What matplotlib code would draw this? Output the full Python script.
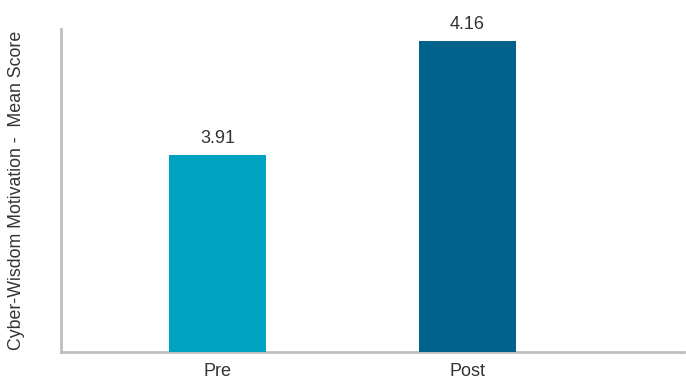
import matplotlib
matplotlib.use("Agg")
import matplotlib.pyplot as plt

categories = ["Pre", "Post"]
values = [3.91, 4.16]
colors = ["#00A2C1", "#00628B"]

plt.rcParams['font.family'] = ['Liberation Sans', 'DejaVu Sans']

fig = plt.figure(figsize=(6.86, 3.81), dpi=100)
ax = fig.add_axes([61/686, 1-352/381, (684-61)/686, (352-29)/381])

x = range(len(categories))
bars = ax.bar(x, values, width=0.388, color=colors, zorder=1)
ax.set_xlim(-0.626, 1.866)
ax.set_ylim(3.478, 4.186)

for xi, v in zip(x, values):
    ax.annotate(f"{v:.2f}", (xi, v), xytext=(0, 6), textcoords="offset points",
                ha="center", va="bottom", fontsize=13, color="#333333")

ax.set_xticks(list(x))
ax.set_xticklabels(categories, fontsize=13, color="#333333")
ax.tick_params(axis='x', length=0, pad=8)
ax.set_yticks([])
for s in ["top", "right"]:
    ax.spines[s].set_visible(False)
for s in ["left", "bottom"]:
    ax.spines[s].set_color("#BFBFBF")
    ax.spines[s].set_linewidth(2)
    ax.spines[s].set_zorder(3)
ax.spines["bottom"].set_zorder(0)

ax.set_ylabel("Cyber-Wisdom Motivation -  Mean Score", fontsize=12.8, color="#333333", labelpad=26)

fig.savefig("out.png", dpi=100)
